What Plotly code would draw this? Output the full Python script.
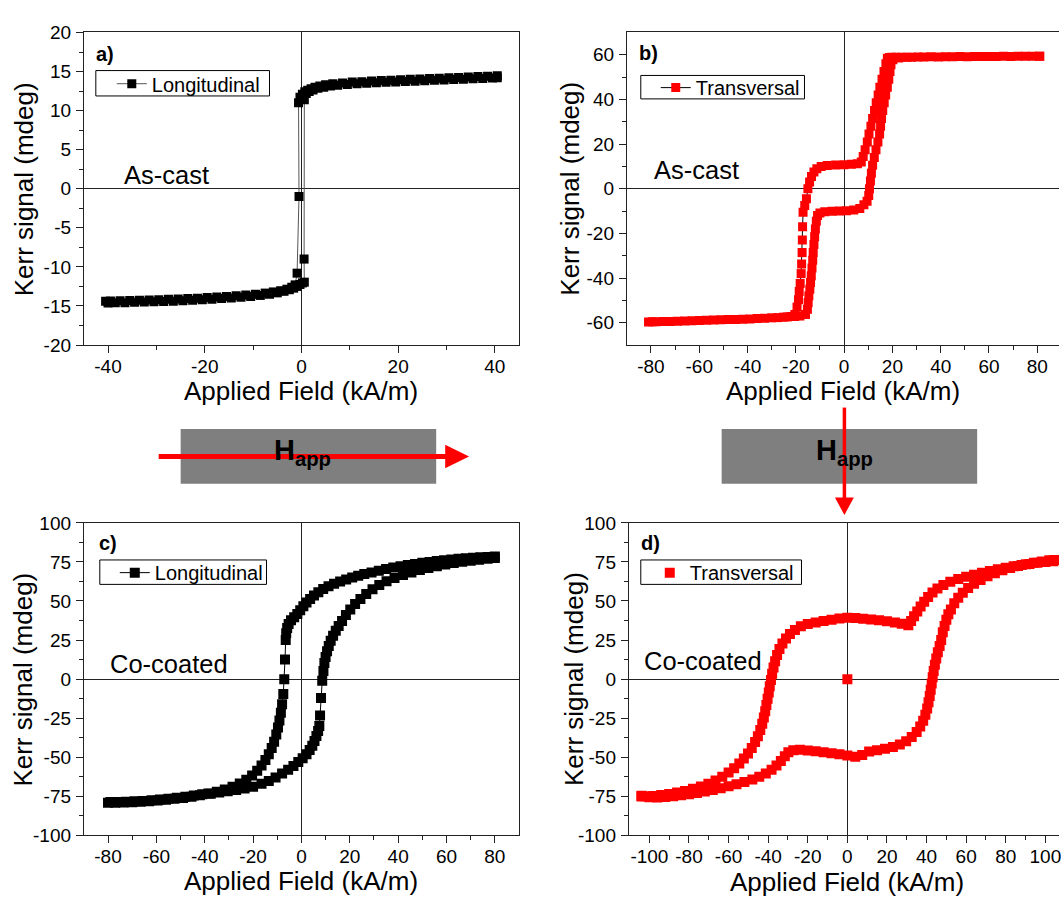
import plotly.graph_objects as go

W, H = 1061, 907

# ---------------- data ----------------
# a) As-cast, longitudinal: descending branch then ascending branch
a_dn_x = [40.5, 38.5, 36.5, 34.5, 32.5, 30.5, 28.5, 26.5, 24.5, 22.5, 20.5, 18.5, 16.5, 14.5, 12.5, 10.5, 8.5, 6.5, 5.0, 3.8,
          2.8, 2.0, 1.3, 0.7, 0.2, -0.3, -0.6, -0.5, -0.9,
          -1.3, -2.0, -3.0, -4.3, -5.8, -7.5, -9.5, -11.5, -13.5, -15.5, -17.5, -19.5, -21.5, -23.5, -25.5, -27.5, -29.5, -31.5,
          -33.5, -35.5, -37.5, -39.5, -40.5]
a_dn_y = [14.45, 14.4, 14.35, 14.3, 14.25, 14.2, 14.15, 14.1, 14.05, 14.0, 13.95, 13.9, 13.85, 13.8, 13.7, 13.65, 13.55, 13.45, 13.3, 13.15,
          13.0, 12.8, 12.6, 12.4, 12.1, 11.7, 11.0, -1.0, -10.8,
          -12.3, -12.6, -12.85, -13.05, -13.2, -13.35, -13.5, -13.6, -13.7, -13.78, -13.85, -13.92, -14.0, -14.05, -14.1, -14.15, -14.2, -14.23,
          -14.27, -14.3, -14.33, -14.36, -14.38]
a_up_x = [-40.0, -38.5, -36.5, -34.5, -32.5, -30.5, -28.5, -26.5, -24.5, -22.5, -20.5, -18.5, -16.5, -14.5, -12.5, -10.5, -8.5, -6.6, -5.0, -3.6,
          -2.5, -1.6, -0.9, -0.3, 0.2, 0.6, 0.55, 0.6,
          1.0, 1.6, 2.4, 3.4, 4.6, 6.0, 7.5, 9.5, 11.5, 13.5, 15.5, 17.5, 19.5, 21.5, 23.5, 25.5, 27.5, 29.5, 31.5, 33.5,
          35.5, 37.5, 39.5, 40.5]
a_up_y = [-14.62, -14.6, -14.57, -14.53, -14.5, -14.46, -14.42, -14.38, -14.33, -14.27, -14.2, -14.13, -14.05, -13.97, -13.88, -13.78, -13.65, -13.5, -13.32, -13.12,
          -12.92, -12.72, -12.5, -12.25, -12.05, -11.95, -9.0, 11.4,
          12.2, 12.45, 12.65, 12.85, 13.0, 13.15, 13.25, 13.35, 13.45, 13.5, 13.57, 13.62, 13.67, 13.72, 13.77, 13.82, 13.87, 13.92, 13.97, 14.02,
          14.07, 14.12, 14.17, 14.2]

# b) As-cast, transversal
b_dn_x = [81, 75, 69, 63, 57, 51, 45, 39, 33, 28, 24, 21.5, 19.8, 18.8, 17.9, 17.3, 16.5, 15.7, 14.8, 14.1,
          13.3, 12.6, 11.8, 11.1, 10.3, 9.6, 8.7, 7.9, 7.1, 5.5, 3.0, 0.0, -3.5, -7.0, -9.5, -11.3, -12.5, -13.5, -14.3, -15.0,
          -15.6, -16.3, -17.0, -17.2, -17.3, -17.4, -17.6, -17.8, -18.2, -18.6, -18.9, -19.5, -20.4, -22.0, -25.0, -30.0, -36.0, -42.0, -48.0, -54.0,
          -60.0, -66.0, -72.0, -78.0, -81.0]
b_dn_y = [59.3, 59.3, 59.2, 59.2, 59.2, 59.1, 59.1, 59.0, 59.0, 58.9, 58.9, 58.9, 58.9, 58.8, 58.4, 56.0, 52.5, 49.0, 45.5, 42.0,
          38.5, 35.0, 31.5, 28.0, 24.5, 21.0, 17.5, 14.5, 12.0, 11.2, 11.0, 10.8, 10.6, 10.4, 10.0, 9.0, 7.5, 5.5, 3.0, 0.0,
          -4.5, -7.5, -10.5, -17.0, -23.0, -28.6, -33.7, -38.0, -42.4, -46.0, -49.7, -53.0, -56.3, -57.2, -57.5, -57.8, -58.1, -58.4, -58.6, -58.8,
          -59.0, -59.2, -59.4, -59.6, -59.7]
b_up_x = [-79.5, -75, -69, -63, -57, -51, -45, -39, -33, -27.5, -23.5, -20.5, -18.3, -16.0, -15.2, -14.9, -14.6, -14.2, -13.9, -13.6,
          -13.3, -13.0, -12.8, -12.5, -12.2, -11.9, -11.5, -11.0, -10.0, -8.0, -5.0, -2.0, 1.0, 4.0, 6.5, 8.2, 9.5, 10.2, 10.5, 10.9,
          11.3, 11.8, 12.5, 13.2, 14.0, 14.7, 15.1, 15.5, 16.0, 16.6, 17.2, 17.9, 18.5, 19.0, 19.4, 20.2, 22.5, 26, 30.5, 36,
          42, 48, 54, 60, 66, 72, 78, 81]
b_up_y = [-59.6, -59.5, -59.3, -59.1, -58.9, -58.7, -58.5, -58.3, -58.0, -57.7, -57.4, -57.2, -57.0, -56.3, -54.0, -51.0, -48.0, -45.0, -42.0, -39.0,
          -35.5, -32.0, -28.5, -25.0, -21.5, -18.0, -14.5, -12.0, -10.8, -10.3, -10.1, -10.0, -9.8, -9.5, -8.8, -7.2, -5.6, -3.0, 0.0, 3.5,
          7.0, 10.5, 14.0, 17.5, 21.0, 24.5, 28.0, 31.5, 35.0, 38.5, 42.0, 45.5, 49.0, 52.5, 55.5, 57.8, 58.6, 58.9, 59.0, 59.1,
          59.1, 59.2, 59.2, 59.2, 59.3, 59.3, 59.3, 59.4]

# c) Co-coated, longitudinal
c_dn_x = [80, 77, 74, 71, 68, 65, 62, 59, 56, 53, 50, 47, 44, 41, 38, 35, 32, 29, 26, 23.5,
          21, 18.5, 16, 13.5, 11.2, 9, 7, 5.2, 3.6, 2.1, 0.8, -0.5, -1.7, -3.0, -4.3, -5.3, -5.9, -6.3, -6.5, -6.8,
          -7.1, -7.5, -8.0, -8.5, -9.1, -9.7, -10.4, -11.3, -12.3, -13.5, -14.9, -16.5, -18.3, -20.4, -22.8, -25.5, -28.5, -31.7, -35, -38.5,
          -42, -45.5, -49, -52.5, -56, -59.5, -63, -66.5, -70, -73.5, -77, -80]
c_dn_y = [78.4, 78.2, 78.0, 77.7, 77.4, 77.0, 76.6, 76.1, 75.6, 75.0, 74.4, 73.7, 73.0, 72.2, 71.4, 70.4, 69.4, 68.3, 67.2, 66.1,
          65.0, 63.8, 62.5, 61.0, 59.4, 57.6, 55.6, 53.5, 51.3, 49.0, 46.6, 44.0, 41.6, 39.6, 37.6, 35.3, 32.7, 29.3, 25.0, 12.5,
          0.0, -9.5, -16.0, -21.5, -26.5, -31.0, -35.5, -40.0, -44.0, -48.0, -51.8, -55.3, -58.6, -61.6, -64.4, -66.8, -68.9, -70.6, -72.0, -73.2,
          -74.3, -75.2, -76.0, -76.6, -77.2, -77.7, -78.1, -78.5, -78.8, -79.0, -79.1, -79.1]
c_up_x = [-79, -76, -72.5, -69, -65.5, -62, -58.5, -55, -51.5, -48, -44.5, -41, -37.5, -34, -30.5, -27, -23.5, -20, -16.5, -13.5,
          -10.7, -8.0, -5.5, -3.3, -1.3, 0.5, 2.1, 3.4, 4.5, 5.4, 6.2, 6.9, 7.4, 7.7, 8.1, 8.6, 9.1, 9.5, 10.0, 10.6,
          11.3, 12.1, 13.1, 14.2, 15.4, 16.8, 18.4, 20.2, 22.2, 24.4, 26.8, 29.4, 32.2, 35.2, 38.5, 42, 45.5, 49, 52.5, 56,
          59.5, 63, 66.5, 70, 73.5, 77, 80]
c_up_y = [-78.6, -78.6, -78.4, -78.2, -77.9, -77.5, -77.0, -76.5, -75.9, -75.2, -74.4, -73.6, -73.3, -72.6, -71.8, -71.0, -70.0, -68.8, -67.0, -65.2,
          -62.9, -60.4, -58.0, -55.6, -53.0, -50.6, -48.0, -45.4, -42.6, -39.6, -36.4, -33.2, -30.0, -23.3, -12.1, -1.0, 5.2, 10.4, 14.2, 17.8,
          21.2, 24.5, 27.8, 31.0, 34.0, 37.2, 41.0, 44.5, 48.0, 51.3, 54.5, 57.5, 60.2, 62.6, 64.7, 66.6, 68.3, 69.8, 71.1, 72.3,
          73.4, 74.3, 75.1, 75.8, 76.4, 77.0, 77.5]

# d) Co-coated, transversal
d_start_x = [0.0]
d_start_y = [0.0]
d_dn_x = [104, 100, 96, 92, 88, 84, 80, 76, 72, 68, 64, 60, 56, 52, 48.5, 45.5, 43, 40.8, 38.8, 37,
          35.3, 33.7, 32.2, 30.8, 27.5, 24, 20, 16, 12, 8, 4, 0, -4, -8, -12, -16, -20, -23.5, -26.5, -29,
          -31, -32.8, -34.3, -35.5, -36.5, -37.3, -38.0, -38.6, -39.2, -39.7, -40.3, -40.9, -41.5, -42.2, -43.0, -44.0, -45.2, -46.6, -48.3, -50.2,
          -52.3, -54.6, -57.2, -60.0, -63.2, -66.6, -70.2, -74, -78, -82, -86, -90, -94, -98, -102, -104]
d_dn_y = [75.5, 75.0, 74.4, 73.7, 73.0, 72.2, 71.3, 70.3, 69.2, 68.0, 66.8, 65.5, 64.0, 62.3, 60.3, 58.0, 55.5, 52.5, 49.5, 46.5,
          43.3, 40.2, 37.2, 34.4, 35.5, 36.3, 37.0, 37.6, 38.2, 38.7, 39.1, 39.3, 38.8, 38.0, 37.2, 36.3, 35.2, 33.8, 31.5, 28.8,
          26.0, 22.8, 19.3, 15.5, 11.5, 7.5, 3.5, -0.5, -4.5, -8.5, -12.5, -16.5, -20.5, -24.5, -28.5, -32.5, -36.5, -40.3, -44.0, -47.5,
          -50.8, -54.0, -57.0, -59.8, -62.4, -64.8, -66.9, -68.7, -70.2, -71.5, -72.6, -73.5, -74.2, -74.7, -75.0, -75.1]
d_up_x = [-104, -100, -96, -92, -88, -84, -80, -76, -72, -68, -64, -60, -56, -52, -48, -44.5, -41.2, -38.3, -35.8, -33.6,
          -31.6, -29.8, -27.3, -24, -20, -16, -12, -8, -4, 0, 4, 7.5, 11, 15, 19, 23, 26.5, 29.7, 32.5, 35,
          36.8, 38.3, 39.4, 40.3, 41.0, 41.6, 42.1, 42.6, 43.1, 43.6, 44.2, 44.9, 45.7, 46.6, 47.4, 48.2, 49.1, 50.0, 51.0, 52.3,
          54.0, 56.0, 58.3, 61.0, 64.0, 67.3, 70.8, 74.5, 78.3, 82.2, 86.2, 90.2, 94.2, 98.2, 102, 104.5]
d_up_y = [-74.6, -75.5, -75.8, -75.4, -74.9, -74.3, -73.6, -72.8, -71.9, -70.9, -69.8, -68.6, -67.3, -65.8, -64.2, -62.4, -60.3, -57.9, -55.2, -52.3,
          -49.3, -46.8, -45.5, -45.2, -45.6, -46.1, -46.7, -47.4, -48.1, -48.8, -49.7, -48.5, -46.3, -45.5, -44.6, -43.4, -41.8, -39.7, -37.0, -33.8,
          -30.3, -26.6, -22.8, -18.8, -14.8, -10.8, -6.8, -2.8, 1.2, 5.2, 9.2, 13.2, 17.2, 21.2, 25.0, 30.0, 34.0, 38.0, 41.5, 44.5,
          48.5, 52.0, 55.2, 58.3, 61.0, 63.5, 65.8, 67.8, 69.6, 71.1, 72.4, 73.5, 74.5, 75.3, 76.0, 76.3]

# tick values / labels
a_xtick = [-40, -20, 0, 20, 40]
a_xlab = ["-40", "-20", "0", "20", "40"]
a_xminor = [-30, -10, 10, 30]
a_ytick = [-20, -15, -10, -5, 0, 5, 10, 15, 20]
a_ylab = ["-20", "-15", "-10", "-5", "0", "5", "10", "15", "20"]
a_yminor = [-17.5, -12.5, -7.5, -2.5, 2.5, 7.5, 12.5, 17.5]
b_xtick = [-80, -60, -40, -20, 0, 20, 40, 60, 80]
b_xlab = ["-80", "-60", "-40", "-20", "0", "20", "40", "60", "80"]
b_xminor = [-70, -50, -30, -10, 10, 30, 50, 70]
b_ytick = [-60, -40, -20, 0, 20, 40, 60]
b_ylab = ["-60", "-40", "-20", "0", "20", "40", "60"]
b_yminor = [-50, -30, -10, 10, 30, 50]
c_ytick = [-100, -75, -50, -25, 0, 25, 50, 75, 100]
c_ylab = ["-100", "-75", "-50", "-25", "0", "25", "50", "75", "100"]
c_yminor = [-87.5, -62.5, -37.5, -12.5, 12.5, 37.5, 62.5, 87.5]
d_xtick = [-100, -80, -60, -40, -20, 0, 20, 40, 60, 80, 100]
d_xlab = ["-100", "-80", "-60", "-40", "-20", "0", "20", "40", "60", "80", "100"]
d_xminor = [-90, -70, -50, -30, -10, 10, 30, 50, 70, 90]

# ---------------- figure ----------------
FONT = "Liberation Sans, Arial, sans-serif"
AX = "#222222"
RED = "#FF0000"


def fx(p):
    return p / W


def fy(p):
    return 1 - p / H


fig = go.Figure()

fig.add_trace(go.Scatter(
    x=a_dn_x + a_up_x, y=a_dn_y + a_up_y, mode="lines+markers", name="Longitudinal",
    line=dict(color="#555555", width=1),
    marker=dict(symbol="square", size=9, color="black", line=dict(width=0)),
    xaxis="x", yaxis="y", legend="legend"))
fig.add_trace(go.Scatter(
    x=b_dn_x + b_up_x, y=b_dn_y + b_up_y, mode="lines+markers", name="Transversal",
    line=dict(color="black", width=1),
    marker=dict(symbol="square", size=9, color=RED, line=dict(width=0)),
    xaxis="x2", yaxis="y2", legend="legend2"))
fig.add_trace(go.Scatter(
    x=c_dn_x + c_up_x, y=c_dn_y + c_up_y, mode="lines+markers", name="Longitudinal",
    line=dict(color="black", width=1),
    marker=dict(symbol="square", size=10, color="black", line=dict(width=0)),
    xaxis="x3", yaxis="y3", legend="legend3"))
fig.add_trace(go.Scatter(
    x=d_start_x + d_dn_x + d_up_x, y=d_start_y + d_dn_y + d_up_y, mode="markers", name="Transversal",
    marker=dict(symbol="square", size=10, color=RED, line=dict(width=0)),
    xaxis="x4", yaxis="y4", legend="legend4"))


def axis(domain, rng, tv, tt, mv, anchor, mirror=True, standoff=0):
    return dict(
        domain=domain, range=rng, anchor=anchor, tickmode="array", tickvals=tv, ticktext=tt,
        ticks="outside", ticklen=7, tickwidth=1, tickcolor=AX,
        ticklabelstandoff=standoff, ticklabeloverflow="allow",
        showline=True, linecolor=AX, linewidth=1, mirror=mirror,
        showgrid=False, zeroline=True, zerolinecolor=AX, zerolinewidth=1,
        tickfont=dict(family=FONT, size=19, color="black"),
        minor=dict(tickmode="array", tickvals=mv, ticks="outside", ticklen=4, tickwidth=1,
                   tickcolor=AX, showgrid=False),
        fixedrange=True)


top_dom = [fy(343), fy(23)]
bot_dom = [fy(845), fy(525)]
left_dom = [fx(84), fx(520)]
b_dom = [fx(628), 1.0]
d_dom = [fx(630), 1.0]


def legend(px, py):
    return dict(x=fx(px), y=fy(py), xanchor="left", yanchor="top", bgcolor="rgba(0,0,0,0)",
                borderwidth=0, font=dict(family=FONT, size=20, color="black"))


shapes = []
# legend frames
for (x0, y0, x1, y1) in [(96, 62, 270, 88), (642, 67, 806, 91), (100, 563, 267, 588), (642, 563, 803, 588)]:
    shapes.append(dict(type="rect", xref="paper", yref="paper", x0=fx(x0), x1=fx(x1), y0=fy(y1), y1=fy(y0),
                       line=dict(color="black", width=1), fillcolor="rgba(0,0,0,0)", layer="above"))
# sample ribbons
for (x0, x1) in [(181, 437), (723, 979)]:
    shapes.append(dict(type="rect", xref="paper", yref="paper", x0=fx(x0), x1=fx(x1), y0=fy(485), y1=fy(429),
                       line=dict(width=0), fillcolor="#7f7f7f", layer="above"))
# horizontal field arrow
shapes.append(dict(type="line", xref="paper", yref="paper", x0=fx(159), x1=fx(447), y0=fy(457), y1=fy(457),
                   line=dict(color=RED, width=5), layer="above"))
shapes.append(dict(type="path", xref="paper", yref="paper",
                   path=f"M {fx(446)},{fy(445)} L {fx(470)},{fy(457)} L {fx(446)},{fy(469)} Z",
                   fillcolor=RED, line=dict(width=0), layer="above"))
# vertical field arrow
shapes.append(dict(type="line", xref="paper", yref="paper", x0=fx(846), x1=fx(846), y0=fy(407), y1=fy(500),
                   line=dict(color=RED, width=3.5), layer="above"))
shapes.append(dict(type="path", xref="paper", yref="paper",
                   path=f"M {fx(836.5)},{fy(499)} L {fx(855.5)},{fy(499)} L {fx(846)},{fy(517)} Z",
                   fillcolor=RED, line=dict(width=0), layer="above"))


def ann(text, px, py, size, angle=0, bold=False):
    return dict(text=f"<b>{text}</b>" if bold else text, x=fx(px), y=fy(py), xref="paper", yref="paper",
                showarrow=False, xanchor="center", yanchor="middle", textangle=angle,
                font=dict(family=FONT, size=size, color="black"))


annotations = [
    ann("a)", 105.5, 45.5, 20, bold=True),
    ann("b)", 649.5, 44, 20, bold=True),
    ann("c)", 108, 546, 20, bold=True),
    ann("d)", 652, 546, 20, bold=True),
    ann("As-cast", 166.5, 168.5, 25.5),
    ann("As-cast", 698, 164, 25.5),
    ann("Co-coated", 169.5, 670, 25.5),
    ann("Co-coated", 704, 666, 25.5),
    ann("Applied Field (kA/m)", 302, 390, 26),
    ann("Applied Field (kA/m)", 845, 390, 26),
    ann("Applied Field (kA/m)", 302, 892, 26),
    ann("Applied Field (kA/m)", 848.5, 893, 26),
    ann("Kerr signal (mdeg)", 23.5, 183, 26, angle=-90),
    ann("Kerr signal (mdeg)", 571, 183, 26, angle=-90),
    ann("Kerr signal (mdeg)", 23.5, 685, 26, angle=-90),
    ann("Kerr signal (mdeg)", 575, 685, 26, angle=-90),
    ann("H<sub>app</sub>", 303, 452, 29, bold=True),
    ann("H<sub>app</sub>", 846, 452, 29, bold=True),
]

fig.update_layout(
    width=W, height=H, margin=dict(l=0, r=0, t=0, b=0),
    paper_bgcolor="white", plot_bgcolor="white", showlegend=True,
    font=dict(family=FONT, color="black"),
    xaxis=axis(left_dom, [-45, 45], a_xtick, a_xlab, a_xminor, "y", standoff=-3),
    yaxis=axis(top_dom, [-20, 20], a_ytick, a_ylab, a_yminor, "x", standoff=1),
    xaxis2=axis(b_dom, [-90, 89], b_xtick, b_xlab, b_xminor, "y2", standoff=-3),
    yaxis2=axis(top_dom, [-70, 70], b_ytick, b_ylab, b_yminor, "x2", mirror=False, standoff=1),
    xaxis3=axis(left_dom, [-90, 90], b_xtick, b_xlab, b_xminor, "y3", standoff=-3),
    yaxis3=axis(bot_dom, [-100, 100], c_ytick, c_ylab, c_yminor, "x3", standoff=1),
    xaxis4=axis(d_dom, [-110.4, 106.9], d_xtick, d_xlab, d_xminor, "y4", standoff=-3),
    yaxis4=axis(bot_dom, [-100, 100], c_ytick, c_ylab, c_yminor, "x4", mirror=False, standoff=1),
    legend=legend(112, 55.5),
    legend2=legend(657, 59.5),
    legend3=legend(115, 556),
    legend4=legend(651, 556),
    shapes=shapes,
    annotations=annotations,
)

fig.write_html("out.html", config={"displayModeBar": False},
               post_script="document.body.style.margin='0px';document.body.style.overflow='hidden';")
